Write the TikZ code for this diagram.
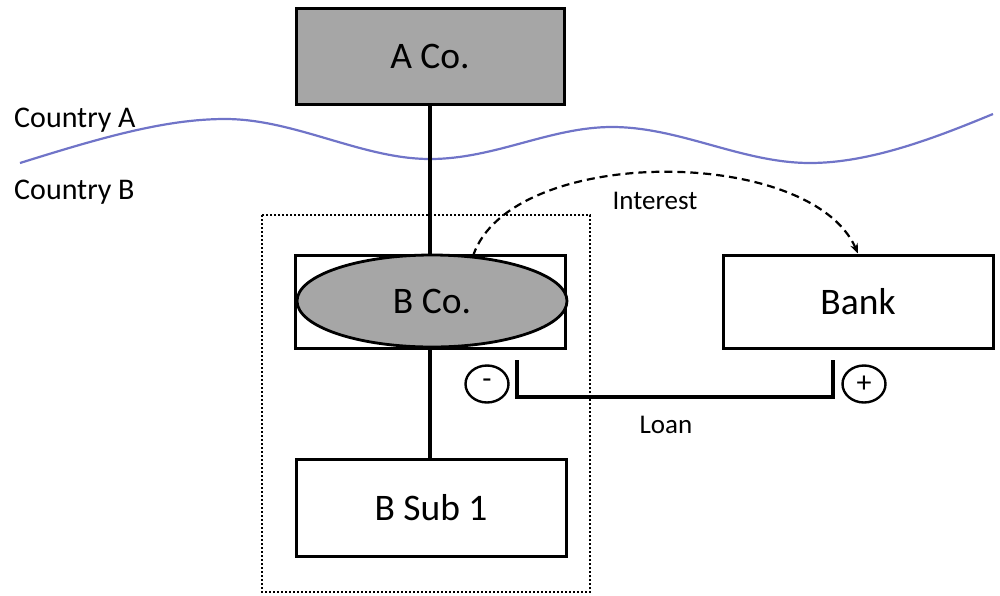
\documentclass[tikz,border=0pt]{standalone}
\usepackage{fontspec}
\setmainfont{Carlito}
\usetikzlibrary{arrows.meta,shapes.geometric}
\definecolor{boxgray}{RGB}{166,166,166}
\definecolor{waveblue}{RGB}{112,116,200}
\tikzset{
  entbox/.style={draw=black,line width=3pt,inner sep=0pt,font=\fontsize{37.5}{42}\selectfont},
  lbl/.style={inner sep=0pt,font=\fontsize{27}{30}\selectfont},
  sign/.style={draw=black,line width=2.4pt,ellipse,minimum width=43pt,minimum height=37pt,inner sep=0pt,font=\fontsize{30}{32}\selectfont},
  link/.style={line width=3.2pt,draw=black}
}
\begin{document}
\begin{tikzpicture}[x=1pt,y=-1pt]
\useasboundingbox (0,0) rectangle (1000,595);
% A Co.
\node[entbox,fill=boxgray,minimum width=268pt,minimum height=96pt] (aco) at (430,56) {A Co.};
% border wave
\draw[waveblue,line width=2.2pt] (20,163) .. controls (100,138) and (165,119) .. (225,119)
  .. controls (295,119) and (362,159) .. (430,159)
  .. controls (495,159) and (550,127) .. (612,127)
  .. controls (680,127) and (742,163) .. (810,163)
  .. controls (870,163) and (935,138) .. (993,114);
\node[lbl,anchor=west,font=\fontsize{30}{32}\selectfont] (ca) at (14,120) {Country A};
\node[lbl,anchor=west,font=\fontsize{30}{32}\selectfont] (cb) at (14,192) {Country B};
% dotted group
\draw[line width=2.8pt,dash pattern=on 2.4pt off 1.6pt] (262,215) rectangle (590,592);
% B Co.
\node[entbox,fill=white,minimum width=270pt,minimum height=93pt] (bco) at (430,301.5) {};
\node[ellipse,draw=black,line width=2.8pt,fill=boxgray,minimum width=270pt,minimum height=92pt,inner sep=0pt,font=\fontsize{37.5}{42}\selectfont] (bcoe) at (432,301) {B Co.};
% B Sub 1
\node[entbox,fill=white,minimum width=270pt,minimum height=97pt] (bsub) at (431,507.5) {B Sub 1};
% Bank
\node[entbox,fill=white,minimum width=270pt,minimum height=93pt] (bank) at (858,301.5) {Bank};
% links
\draw[link] (aco.south) -- (bco.north);
\draw[link] (bco.south) -- (bco.south |- bsub.north);
% interest
\coordinate (intS) at (473,256);
\draw[line width=2.2pt,dash pattern=on 8pt off 5pt,-{Stealth[length=10pt,width=8pt]}] (intS) .. controls (510,145) and (810,145) .. (bank.north);
\node[lbl] (interest) at (655,201) {Interest};
% loan
\coordinate (loanL) at (517,360);
\coordinate (loanR) at (833,360);
\draw[link] (loanL) -- (517,397) -- (833,397) -- (loanR);
\node[lbl] (loan) at (666,425) {Loan};
\node[sign] (minus) at (487,384) {-};
\node[sign] (plus) at (864,384) {+};
\end{tikzpicture}
\end{document}
